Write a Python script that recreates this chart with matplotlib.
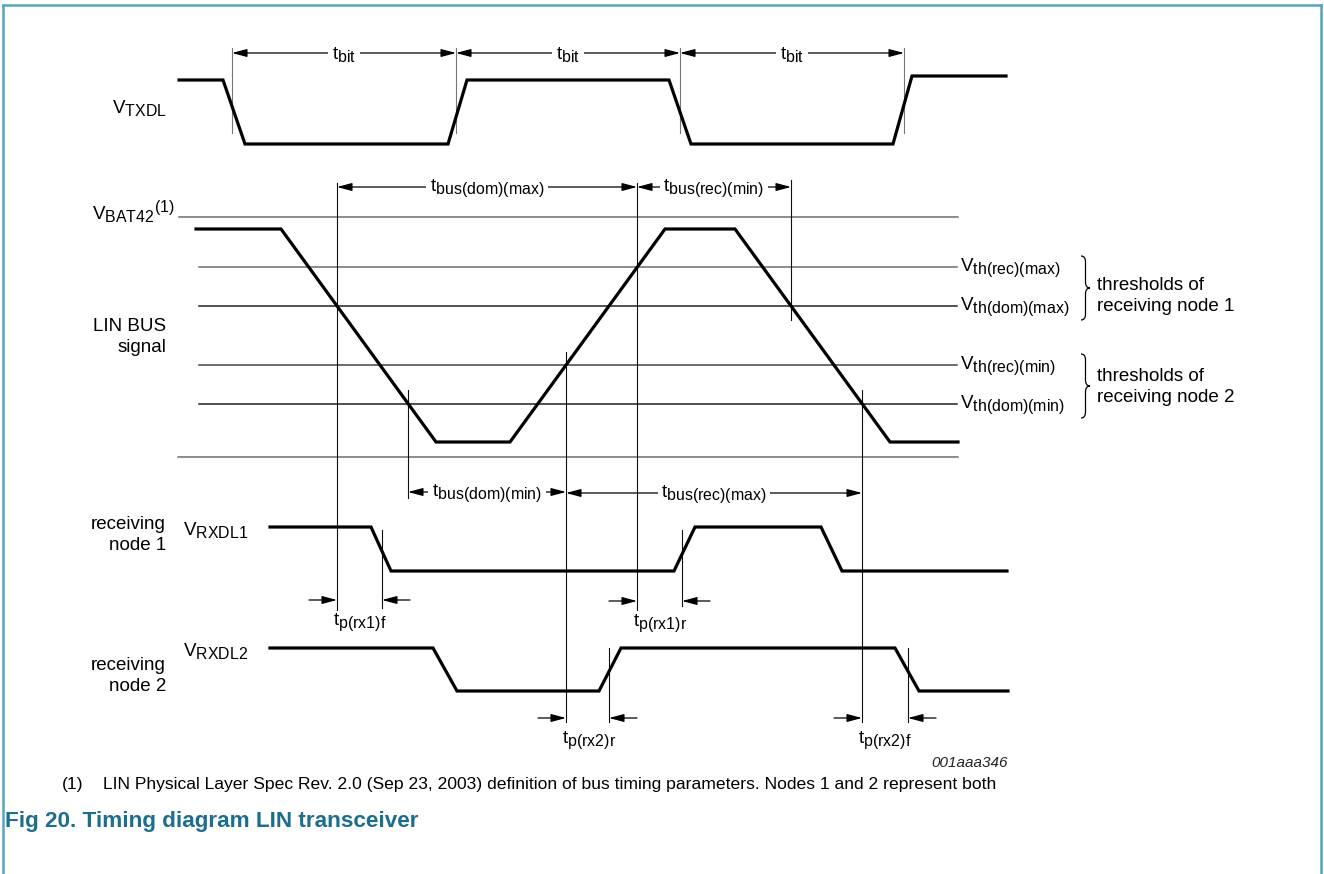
import matplotlib.pyplot as plt
import matplotlib._mathtext as mathtext_impl
from matplotlib.path import Path
from matplotlib.patches import PathPatch

plt.rcParams['font.family'] = ['Liberation Sans', 'DejaVu Sans']
plt.rcParams['mathtext.fontset'] = 'custom'
plt.rcParams['mathtext.rm'] = 'Liberation Sans'
plt.rcParams['mathtext.it'] = 'Liberation Sans:italic'
plt.rcParams['mathtext.bf'] = 'Liberation Sans:bold'
# subscripts in the datasheet are almost full size
mathtext_impl.SHRINK_FACTOR = 0.85

# waveforms, page coordinates (x to the right, y down the page)
txd_x = [179, 223, 245, 448, 467, 669, 691, 893, 912, 1006]
txd_y = [80, 80, 144, 144, 80, 80, 144, 144, 76, 76]
bus_x = [196, 281, 436, 510, 665, 735, 890, 958]
bus_y = [229, 229, 442, 442, 229, 229, 442, 442]
rx1_x = [270, 371, 391, 674, 695, 821, 842, 1007]
rx1_y = [527, 527, 571, 571, 527, 527, 571, 571]
rx2_x = [270, 433, 457, 599, 621, 895, 919, 1008]
rx2_y = [648, 648, 691, 691, 648, 648, 691, 691]

# bus voltage levels
level_y = [217, 267, 306, 365, 404, 457]
level_x0 = [179, 199, 199, 199, 199, 178]
level_x1 = [958, 957, 957, 957, 957, 958]
level_col = ['#6e6e6e', '#6e6e6e', '#222222', '#444444', '#222222', '#6e6e6e']
level_lbl = ['', 'th(rec)(max)', 'th(dom)(max)', 'th(rec)(min)', 'th(dom)(min)', '']

# vertical reference lines
mark_x = [232, 456, 680, 904, 337, 637, 791, 408, 566, 862, 382, 682, 609, 908]
mark_y0 = [48, 48, 48, 48, 183, 183, 180, 390, 352, 390, 530, 530, 648, 648]
mark_y1 = [133, 133, 133, 133, 610, 610, 320, 498, 722, 722, 608, 606, 722, 722]

# spans (arrows pointing outwards, label in the middle)
span_x0 = [232, 456, 680, 337, 637, 408, 566]
span_x1 = [456, 680, 904, 637, 791, 566, 862]
span_y = [53, 53, 53, 187, 187, 492, 493]
span_lbl = ['bit', 'bit', 'bit', 'bus(dom)(max)', 'bus(rec)(min)',
            'bus(dom)(min)', 'bus(rec)(max)']

# propagation delays (arrows pointing inwards)
pd_x0 = [337, 637, 566, 862]
pd_x1 = [382, 682, 609, 908]
pd_y = [600, 601, 718, 718]
pd_lbl = ['p(rx1)f', 'p(rx1)r', 'p(rx2)r', 'p(rx2)f']

fig = plt.figure(figsize=(13.24, 8.74), dpi=100, facecolor='white')
ax = fig.add_axes([0, 0, 1, 1])
ax.set_xlim(0, 1324)
ax.set_ylim(874, 0)
ax.axis('off')

fs = 13.5
frame = '#56a5bd'

# page frame
ax.plot([3, 3], [874, 5], color=frame, lw=1.8)
ax.plot([3, 1321], [5, 5], color=frame, lw=1.8)
ax.plot([1321, 1321], [5, 874], color=frame, lw=1.8)

# levels
for y, x0, x1, c, lbl in zip(level_y, level_x0, level_x1, level_col, level_lbl):
    ax.plot([x0, x1], [y, y], color=c, lw=1.1)
    if lbl:
        ax.text(960, y + 1, r'V$_{\mathrm{' + lbl + '}}$', fontsize=fs,
                ha='left', va='center')

# reference lines
for x, y0, y1 in zip(mark_x, mark_y0, mark_y1):
    c = '#777777' if y1 < 140 else '#111111'
    ax.plot([x, x], [y0, y1], color=c, lw=0.8)

# signals
for xs, ys in [(txd_x, txd_y), (bus_x, bus_y), (rx1_x, rx1_y), (rx2_x, rx2_y)]:
    ax.plot(xs, ys, color='black', lw=2.3, solid_joinstyle='miter')

ap = dict(color='black', lw=0.9, shrinkA=0, shrinkB=0, mutation_scale=12)
for x0, x1, y, lbl in zip(span_x0, span_x1, span_y, span_lbl):
    ax.annotate('', xy=(x1, y), xytext=(x0, y),
                arrowprops=dict(arrowstyle='<|-|>,head_length=0.75,head_width=0.2', **ap))
    ax.text((x0 + x1) / 2, y + 1, r't$_{\mathrm{' + lbl + '}}$', fontsize=fs,
            ha='center', va='center', zorder=5,
            bbox=dict(fc='white', ec='none', pad=2.5))

for x0, x1, y, lbl in zip(pd_x0, pd_x1, pd_y, pd_lbl):
    ax.annotate('', xy=(x0, y), xytext=(x0 - 28, y),
                arrowprops=dict(arrowstyle='-|>,head_length=0.75,head_width=0.2', **ap))
    ax.annotate('', xy=(x1, y), xytext=(x1 + 28, y),
                arrowprops=dict(arrowstyle='-|>,head_length=0.75,head_width=0.2', **ap))
    ax.text(x0 - 4, y + 22, r't$_{\mathrm{' + lbl + '}}$', fontsize=fs,
            ha='left', va='center')


def brace(x, y0, y1, w):
    ym = (y0 + y1) / 2
    xm = x + w / 2
    r = 6
    verts = [(x, y0), (xm, y0), (xm, y0 + r), (xm, ym - r), (xm, ym), (x + w, ym),
             (xm, ym), (xm, ym + r), (xm, y1 - r), (xm, y1), (x, y1)]
    codes = [Path.MOVETO, Path.CURVE3, Path.CURVE3, Path.LINETO, Path.CURVE3, Path.CURVE3,
             Path.CURVE3, Path.CURVE3, Path.LINETO, Path.CURVE3, Path.CURVE3]
    ax.add_patch(PathPatch(Path(verts, codes), fc='none', ec='black', lw=0.9))


brace(1081, 256, 320, 9)
brace(1081, 354, 418, 9)
ax.text(1097, 296, 'thresholds of\nreceiving node 1', fontsize=fs, ha='left',
        va='center', linespacing=1.3)
ax.text(1097, 387, 'thresholds of\nreceiving node 2', fontsize=fs, ha='left',
        va='center', linespacing=1.3)

# left-hand labels
ax.text(112, 113, r'V$_{\mathrm{TXDL}}$', fontsize=fs, ha='left', va='baseline')
ax.text(92, 219, r'V$_{\mathrm{BAT42}}{}^{\mathrm{(1)}}$', fontsize=fs, ha='left', va='baseline')
ax.text(166, 337, 'LIN BUS\nsignal', fontsize=fs, ha='right', va='center',
        multialignment='right', linespacing=1.3)
ax.text(166, 535, 'receiving\nnode 1', fontsize=fs, ha='right', va='center',
        multialignment='right', linespacing=1.3)
ax.text(166, 676, 'receiving\nnode 2', fontsize=fs, ha='right', va='center',
        multialignment='right', linespacing=1.3)
ax.text(183, 535, r'V$_{\mathrm{RXDL1}}$', fontsize=fs, ha='left', va='baseline')
ax.text(183, 656, r'V$_{\mathrm{RXDL2}}$', fontsize=fs, ha='left', va='baseline')

ax.text(1008, 763, '001aaa346', fontsize=11, style='italic', ha='right',
        va='center', color='#222222')

ax.text(62, 785, '(1)', fontsize=12.6, ha='left', va='center')
ax.text(103, 785, 'LIN Physical Layer Spec Rev. 2.0 (Sep 23, 2003) definition of bus '
        'timing parameters. Nodes 1 and 2 represent both', fontsize=12.6,
        ha='left', va='center')
ax.text(5, 821, 'Fig 20. Timing diagram LIN transceiver', fontsize=16.2,
        fontweight='bold', color='#1d6e8c', ha='left', va='center')

fig.savefig('out.png', dpi=100, facecolor='white')
